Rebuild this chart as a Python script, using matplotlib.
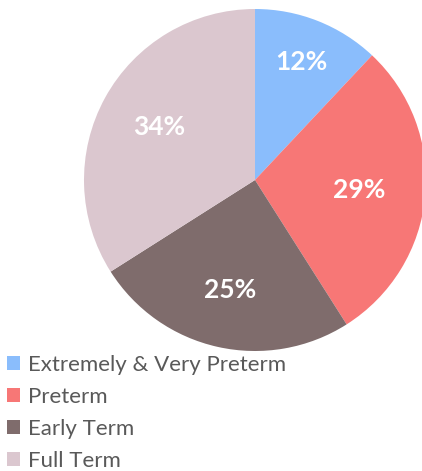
import matplotlib
matplotlib.use("Agg")
import matplotlib.pyplot as plt

# Share of births by gestational age group
categories = ["Extremely & Very Preterm", "Preterm", "Early Term", "Full Term"]
shares = [12, 29, 25, 34]
colors = ["#8ABDFC", "#F77776", "#7F6C6C", "#DBC7CF"]
label_dist = [0.74, 0.61, 0.66, 0.64]

plt.rcParams['font.family'] = ['Lato', 'DejaVu Sans']

fig = plt.figure(figsize=(4.22, 4.71), dpi=100)
ax = fig.add_axes([84 / 422, 120 / 471, 342 / 422, 342 / 471])

wedges, texts, autotexts = ax.pie(
    shares, colors=colors, startangle=90, counterclock=False,
    autopct='%d%%', pctdistance=0.65, radius=1.0,
    wedgeprops=dict(linewidth=0),
    textprops=dict(color='white', fontsize=19, fontweight='bold'))

# move each percentage label to where it sits in the original
for t, d in zip(autotexts, label_dist):
    x, y = t.get_position()
    t.set_position((x / 0.65 * d, y / 0.65 * d))

ax.set_xlim(-1, 1)
ax.set_ylim(-1, 1)
ax.set_aspect('equal')
ax.axis('off')

fig.legend(wedges, categories, loc='upper left',
           bbox_to_anchor=(0.0, 1 - 348 / 471), frameon=False,
           fontsize=16, labelcolor='#595959',
           handlelength=0.6, handleheight=0.6, handletextpad=0.35,
           labelspacing=0.54, borderaxespad=0, borderpad=0.3)

fig.savefig("out.png", dpi=100)
